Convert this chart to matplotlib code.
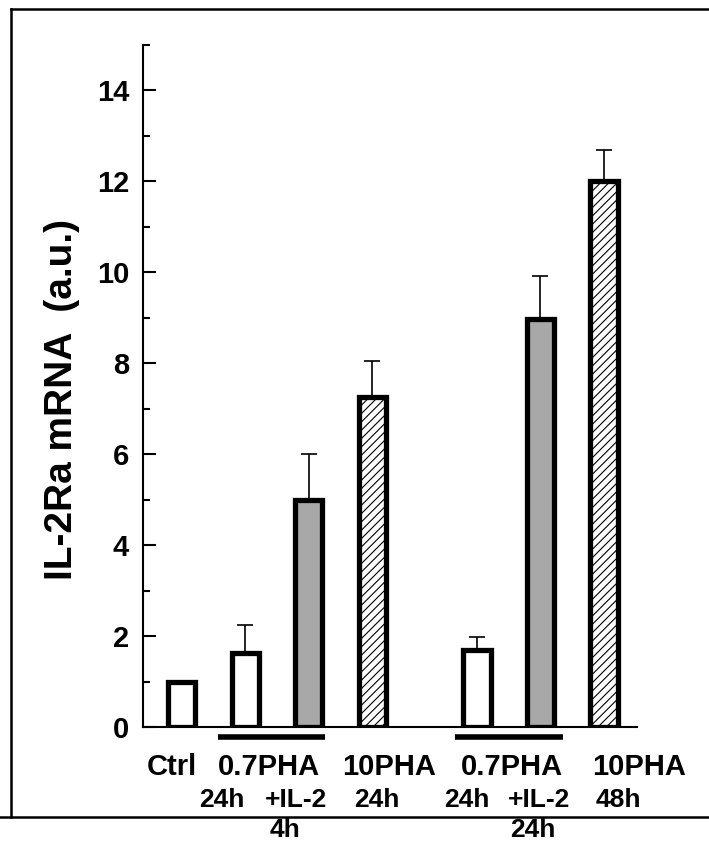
import matplotlib.pyplot as plt
import numpy as np
from matplotlib.lines import Line2D

plt.rcParams['font.family'] = ['Liberation Sans', 'DejaVu Sans']
plt.rcParams['font.weight'] = 'bold'
plt.rcParams['hatch.linewidth'] = 0.8

# values (a.u.)
conditions = ['Ctrl', '0.7PHA 24h 4h', '0.7PHA+IL-2 4h', '10PHA 24h',
              '0.7PHA 24h 24h', '0.7PHA+IL-2 24h', '10PHA 48h']
values = [1.0, 1.62, 5.0, 7.25, 1.7, 8.97, 12.0]
errors = [0.0, 0.62, 1.0, 0.8, 0.28, 0.95, 0.7]
kinds = ['open', 'open', 'gray', 'hatch', 'open', 'gray', 'hatch']

row1 = ['Ctrl', '0.7PHA', '10PHA', '0.7PHA', '10PHA']
row2 = ['24h', '+IL-2', '24h', '24h', '+IL-2', '48h']
row3 = ['4h', '24h']

# layout
gap = 0.65
x = np.arange(len(values)) + np.where(np.arange(len(values)) >= 4, gap, 0.0)
row1_x = [-0.16, 1.37, 3.27, 5.2, 7.2]
row2_x = [0.63, 1.8, 3.07, 4.49, 5.62, 6.88]
row3_x = [1.62, 5.53]
underlines = [(0.57, 2.25), (4.3, 6.0)]


def ypix(py):
    # figure fraction from a pixel row counted from the top
    return (842 - py) / 842


fig = plt.figure(figsize=(7.09, 8.42), dpi=100)
ax = fig.add_axes([143 / 709, 115 / 842, 494 / 709, 682 / 842])

styles = {'open': dict(color='white', hatch=None),
          'gray': dict(color='#a8a8a8', hatch=None),
          'hatch': dict(color='white', hatch='////')}
for xi, v, e, k in zip(x, values, errors, kinds):
    st = styles[k]
    ax.bar(xi, v, width=0.43, facecolor=st['color'], edgecolor='black',
           linewidth=3.8, hatch=st['hatch'], zorder=3)
    if e > 0:
        ax.errorbar(xi, v, yerr=[[0], [e]], fmt='none', ecolor='black',
                    elinewidth=1.2, capsize=6, capthick=1.2, zorder=2)

ax.set_xlim(-0.61, 7.17)
ax.set_ylim(0, 15)
ax.set_yticks(np.arange(0, 15, 2))
ax.set_yticks(np.arange(1, 16, 2), minor=True)
ax.set_xticks([])
ax.tick_params(axis='y', which='major', direction='in', length=9, width=1.5,
               labelsize=21, pad=10)
ax.tick_params(axis='y', which='minor', direction='in', length=5, width=1.5)
for lab in ax.get_yticklabels():
    lab.set_fontweight('bold')
ax.spines['top'].set_visible(False)
ax.spines['right'].set_visible(False)
ax.spines['left'].set_linewidth(1.5)
ax.spines['bottom'].set_linewidth(1.5)
ax.set_ylabel('IL-2Ra mRNA  (a.u.)', fontsize=28, fontweight='bold')
ax.yaxis.set_label_coords(-0.128, 0.48)

for a, b in underlines:
    ax.plot([a, b], [-0.22, -0.22], color='black', linewidth=4, clip_on=False,
            solid_capstyle='butt')

for txt, xx in zip(row1, row1_x):
    ax.annotate(txt, xy=(xx, ypix(767)), xycoords=('data', 'figure fraction'),
                fontsize=21, fontweight='bold', ha='center', va='center',
                annotation_clip=False)
for txt, xx in zip(row2, row2_x):
    ax.annotate(txt, xy=(xx, ypix(800)), xycoords=('data', 'figure fraction'),
                fontsize=19, fontweight='bold', ha='center', va='center',
                annotation_clip=False)
for txt, xx in zip(row3, row3_x):
    ax.annotate(txt, xy=(xx, ypix(830)), xycoords=('data', 'figure fraction'),
                fontsize=19, fontweight='bold', ha='center', va='center',
                annotation_clip=False)

# frame around the panel
fig.add_artist(Line2D([11 / 709, 11 / 709], [ypix(9), ypix(817)], color='black', linewidth=1.8))
fig.add_artist(Line2D([11 / 709, 1.0], [ypix(9), ypix(9)], color='black', linewidth=1.8))
fig.add_artist(Line2D([0, 1.0], [ypix(817), ypix(817)], color='black', linewidth=1.8))

fig.savefig('out.png', dpi=100)
